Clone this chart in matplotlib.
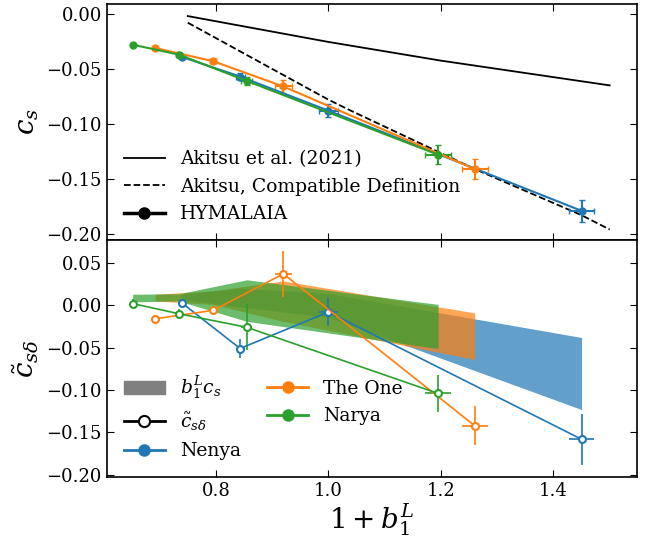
import numpy as np
import matplotlib
matplotlib.use('Agg')
import matplotlib.pyplot as plt
from matplotlib.lines import Line2D
from matplotlib.patches import Patch

plt.rcParams['font.family'] = 'DejaVu Serif'
plt.rcParams['mathtext.fontset'] = 'dejavuserif'

# Akitsu reference curves (top panel)
akitsu_x = [0.75, 1.0, 1.2, 1.5]
akitsu_cs = [-0.002, -0.0255, -0.0425, -0.065]
compat_x = [0.75, 1.0, 1.04, 1.26, 1.45, 1.5]
compat_cs = [-0.008, -0.078, -0.088, -0.141, -0.183, -0.196]

# simulations: 1 + b1^L
names = ['Nenya', 'The One', 'Narya']
colors = ['C0', 'C1', 'C2']
b1 = [[0.739, 0.843, 1.000, 1.450],
      [0.692, 0.795, 0.920, 1.260],
      [0.652, 0.734, 0.855, 1.195]]
b1_err = [[0.003, 0.008, 0.017, 0.023],
          [0.003, 0.005, 0.015, 0.023],
          [0.002, 0.004, 0.010, 0.023]]

# c_s
cs = [[-0.039, -0.057, -0.088, -0.179],
      [-0.031, -0.043, -0.066, -0.141],
      [-0.028, -0.037, -0.061, -0.128]]
cs_err = [[0.002, 0.003, 0.006, 0.010],
          [0.001, 0.002, 0.0055, 0.0087],
          [0.001, 0.002, 0.004, 0.0088]]

# tilde c_{s delta}
csd = [[0.003, -0.051, -0.008, -0.158],
       [-0.016, -0.006, 0.037, -0.142],
       [0.002, -0.010, -0.026, -0.104]]
csd_err = [[0.002, 0.011, 0.016, 0.030],
           [0.0045, 0.005, 0.027, 0.023],
           [0.005, 0.005, 0.027, 0.022]]

# b1^L c_s band
band_hi = [[0.013, 0.020, 0.014, -0.038],
           [0.013, 0.017, 0.0287, -0.009],
           [0.013, 0.0135, 0.030, 0.001]]
band_lo = [[0.007, -0.002, -0.014, -0.123],
           [0.005, 0.001, -0.019, -0.064],
           [0.004, 0.005, -0.019, -0.051]]

fig = plt.figure(figsize=(6.51, 5.38), dpi=100)
ax1 = fig.add_axes([0.164, 0.554, 0.814, 0.4386])
ax2 = fig.add_axes([0.164, 0.1134, 0.814, 0.4406], sharex=ax1)

# top panel
ax1.plot(akitsu_x, akitsu_cs, color='k', lw=1.3)
ax1.plot(compat_x, compat_cs, color='k', ls='--', lw=1.3)
for i in range(3):
    ax1.errorbar(b1[i], cs[i], xerr=b1_err[i], yerr=cs_err[i], color=colors[i],
                 marker='o', ms=5, lw=1.5, capsize=2)

h_top = [Line2D([], [], color='k', lw=1.3),
         Line2D([], [], color='k', lw=1.3, ls='--'),
         Line2D([], [], color='k', lw=2.5, marker='o', ms=8)]
ax1.legend(h_top, ['Akitsu et al. (2021)', 'Akitsu, Compatible Definition', 'HYMALAIA'],
           loc='lower left', frameon=False, fontsize=13.5, handlelength=2.2)
ax1.set_ylim(-0.2055, 0.009)
ax1.set_ylabel(r'$c_s$', fontsize=20)
ax1.tick_params(labelbottom=False)

# bottom panel
for i in range(3):
    ax2.fill_between(b1[i], band_lo[i], band_hi[i], color=colors[i], alpha=0.7, lw=0)
for i in range(3):
    ax2.errorbar(b1[i], csd[i], xerr=b1_err[i], yerr=csd_err[i], color=colors[i],
                 marker='o', ms=5, mfc='white', mew=1.5, lw=1.2)

h_bot = [Patch(color='gray'),
         Line2D([], [], color='k', lw=2, marker='o', ms=8, mfc='white', mew=1.5),
         Line2D([], [], color='C0', lw=2, marker='o', ms=8),
         Line2D([], [], color='C1', lw=2, marker='o', ms=8),
         Line2D([], [], color='C2', lw=2, marker='o', ms=8)]
labels_bot = [r'$b_1^L c_s$', r'$\tilde{c}_{s\delta}$', 'Nenya', 'The One', 'Narya']
ax2.legend(h_bot, labels_bot, loc='lower left', ncol=2, frameon=False, fontsize=13.5,
           handlelength=2.2, columnspacing=1.4)
ax2.set_ylim(-0.2025, 0.077)
ax2.set_xlim(0.606, 1.548)
ax2.set_ylabel(r'$\tilde{c}_{s\delta}$', fontsize=20)
ax2.set_xlabel(r'$1 + b_1^L$', fontsize=20, labelpad=1)

for ax in (ax1, ax2):
    ax.tick_params(direction='in', top=True, right=True, labelsize=13, length=5)
    for s in ax.spines.values():
        s.set_linewidth(1.2)
ax1.set_yticks([0.0, -0.05, -0.10, -0.15, -0.20])
ax2.set_yticks([0.05, 0.0, -0.05, -0.10, -0.15, -0.20])
ax2.set_xticks([0.8, 1.0, 1.2, 1.4])
fig.align_ylabels([ax1, ax2])

plt.savefig('out.png', dpi=100)
